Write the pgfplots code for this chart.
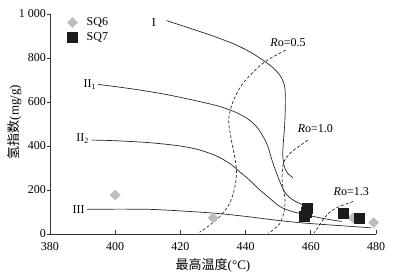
\documentclass[border=0pt]{standalone}
\usepackage{pgfplots}
\pgfplotsset{compat=1.18}
\usepackage{fontspec}
\setmainfont{Liberation Serif}
\newfontfamily\cjk{Noto Sans CJK SC}
\definecolor{sqsix}{RGB}{190,190,190}
\definecolor{sqseven}{RGB}{28,28,28}
\definecolor{lin}{RGB}{40,40,40}
\begin{document}
\begin{tikzpicture}
\useasboundingbox (-50pt,-43pt) rectangle (343pt,234pt);
\begin{axis}[
  at={(0pt,0pt)}, anchor=south west,
  scale only axis, width=326pt, height=220pt,
  xmin=380, xmax=480, ymin=0, ymax=1000,
  axis lines=left,
  axis line style={-, line width=0.7pt, black!80},
  xtick={380,400,...,480}, ytick={0,200,...,1000},
  minor tick num=0,
  tick align=inside,
  major tick length=4pt,
  tick style={line width=0.7pt, black!80},
  ytick style={xshift=-2.5pt},
  /pgf/number format/assume math mode=true,
  /pgf/number format/1000 sep={\ },
  tick label style={font=\fontsize{12}{14}\selectfont},
  xticklabel style={yshift=-4.5pt},
  yticklabel style={xshift=-0.5pt},
  every axis x label/.style={at={(axis description cs:0.5,0)}, anchor=center, yshift=-31.5pt, font=\fontsize{13}{15}\selectfont},
  every axis y label/.style={at={(axis description cs:0,0.5)}, xshift=-35.5pt, yshift=2pt, rotate=90, anchor=center, font=\fontsize{13}{15}\selectfont},
  xlabel={{\cjk 最高温度}(°C)},
  ylabel={{\cjk 氢指数}(mg/g)},
  clip=false,
  legend style={at={(axis description cs:0,1)}, anchor=north west, xshift=17.3pt, yshift=-1.6pt, draw=none, fill=none, inner sep=0pt, font=\fontsize{12}{14}\selectfont, nodes={inner sep=2pt}, column sep=7pt, row sep=1pt},
  legend cell align=left,
  legend image code/.code={\draw[#1] plot coordinates {(0pt,0pt)};},
]
% SQ6
\addplot[only marks, mark=square*, mark size=3.6pt, mark options={rotate=45, fill=sqsix, draw=sqsix}]
  coordinates {(400,177) (430,74) (472.9,73) (479.3,52)};
\addlegendentry{SQ6}
% SQ7
\addplot[only marks, mark=square*, mark size=5pt, mark options={fill=sqseven, draw=sqseven}]
  coordinates {(459,117) (458.6,100) (458.1,79) (469.8,93) (474.9,70)};
\addlegendentry{SQ7}
% Curve I
\addplot[smooth, tension=0.5, line width=0.7pt, lin, forget plot] coordinates {
  (415.7,970) (423,935) (430,900) (437,860) (442,822) (446,783) (449,748) (451,710) (452,670) (452.2,600) (452,500) (451.6,420) (451.4,360) (451.8,310) (452.8,278) (454.5,256)};
% Curve II1
\addplot[smooth, tension=0.5, line width=0.7pt, lin, forget plot] coordinates {
  (394.8,680) (405,660) (415,636) (425,605) (432,580) (437,553) (441,520) (443.5,485) (445.3,445) (446.8,400) (448,340) (449.3,285) (450.6,235) (452,190) (454,160) (456,143) (458,130)};
% Curve II2
\addplot[smooth, tension=0.5, line width=0.7pt, lin, forget plot] coordinates {
  (392.8,427) (400,424) (410.6,415) (420,400) (425.9,382) (431,355) (435.1,321) (438,285) (441.2,245) (444,205) (446.8,170) (450.4,126) (453.5,106) (456.5,94) (463.7,71) (469.5,57)};
% Curve III
\addplot[smooth, tension=0.5, line width=0.7pt, lin, forget plot] coordinates {
  (391.2,112) (400,113) (410.6,112) (420,105) (431,94) (440,80) (450.4,61) (458.6,49) (470,37) (478.5,28)};
% Ro = 0.5
\addplot[smooth, tension=0.5, line width=0.7pt, lin, dash pattern=on 3pt off 2pt, forget plot] coordinates {
  (452.3,836) (445.3,776) (439.2,685) (436.1,600) (434.8,518) (435.6,430) (436.8,340) (437.2,270) (436.5,200) (435.1,139) (433,95) (431,64) (428.5,35) (425.9,8)};
% Ro = 1.0
\addplot[smooth, tension=0.5, line width=0.7pt, lin, dash pattern=on 3pt off 2pt, forget plot] coordinates {
  (459.1,427) (456,395) (453.5,365) (451.6,321) (451.2,245) (452,170) (452,120) (451.4,79) (450.4,45) (448.4,18) (447,3)};
% Ro = 1.3
\addplot[smooth, tension=0.5, line width=0.7pt, lin, dash pattern=on 3pt off 2pt, forget plot] coordinates {
  (473,148) (468,120) (465.5,95) (463.5,60) (462,25) (461,5)};
% labels
\node[font=\fontsize{12}{14}\selectfont] at (axis cs:411.9,960) {I};
\node[font=\fontsize{12}{14}\selectfont, anchor=east, inner sep=1pt] at (axis cs:394.5,680) {II\textsubscript{1}};
\node[font=\fontsize{12}{14}\selectfont, anchor=east, inner sep=1pt] at (axis cs:392.3,432) {II\textsubscript{2}};
\node[font=\fontsize{12}{14}\selectfont, anchor=east, inner sep=1pt] at (axis cs:391,112) {III};
\node[font=\fontsize{12}{14}\selectfont] at (axis cs:453,870) {\textit{R}o=0.5};
\node[font=\fontsize{12}{14}\selectfont] at (axis cs:461.4,480) {\textit{R}o=1.0};
\node[font=\fontsize{12}{14}\selectfont] at (axis cs:472.4,192) {\textit{R}o=1.3};
\end{axis}
\end{tikzpicture}
\end{document}
